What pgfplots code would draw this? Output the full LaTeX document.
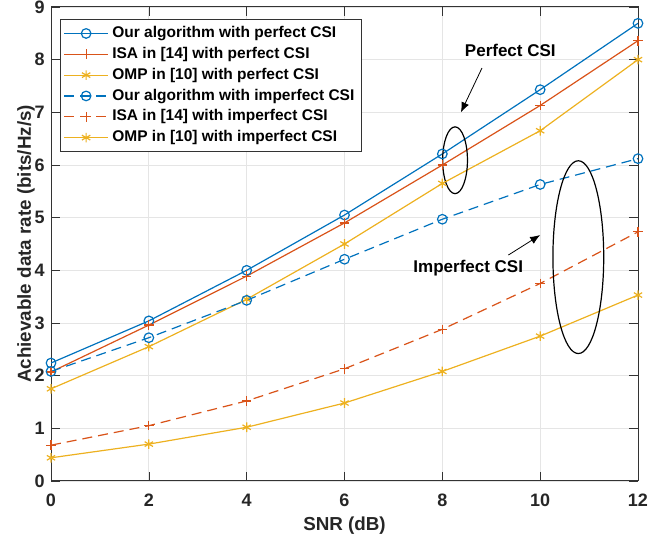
\documentclass[border=0pt]{standalone}
\usepackage{fontspec}
\setmainfont{Liberation Sans}
\usepackage{pgfplots}
\pgfplotsset{compat=1.18}
\usetikzlibrary{arrows.meta}
\definecolor{mb}{rgb}{0,0.447,0.741}
\definecolor{mr}{rgb}{0.85,0.325,0.098}
\definecolor{my}{rgb}{0.929,0.694,0.125}
\begin{document}
\begin{tikzpicture}
\begin{axis}[
  scale only axis, width=293.5pt, height=237pt,
  xmin=0, xmax=12, ymin=0, ymax=9,
  xtick={0,2,...,12}, ytick={0,1,...,9},
  grid=major, major grid style={gray!20, line width=0.4pt},
  tick align=inside, axis line style={black!80, line width=0.5pt},
  tick style={black!80},
  /pgf/number format/assume math mode=true,
  ticklabel style={font=\bfseries\fontsize{9}{10}\selectfont, text=black!85},
  xticklabel style={anchor=base, yshift=-13pt},
  yticklabel style={anchor=east, inner sep=0pt, xshift=-3pt},
  xlabel={SNR (dB)}, ylabel={Achievable data rate (bits/Hz/s)},
  every axis x label/.style={at={(rel axis cs:0.5,0)}, anchor=base, yshift=-25pt,
    font=\bfseries\fontsize{9.4}{11}\selectfont, text=black!85},
  every axis y label/.style={at={(rel axis cs:0,0.5)}, anchor=base, rotate=90, yshift=10pt,
    font=\bfseries\fontsize{9.4}{11}\selectfont, text=black!85},
  legend style={at={(rel axis cs:0.016,0.975)}, anchor=north west, font=\bfseries\fontsize{7.75}{9.4}\selectfont,
    draw=black!80, line width=0.5pt, row sep=-0.7pt, inner sep=1.5pt},
  legend cell align=left,
  legend image code/.code={\draw[mark repeat=2,mark phase=2] plot coordinates {(0cm,0cm)(0.38cm,0cm)(0.76cm,0cm)};},
  every axis plot/.append style={line width=0.6pt, mark size=2.4pt, mark options={solid}},
]
\coordinate (ll) at (rel axis cs:0,0);
\coordinate (ur) at (rel axis cs:1,1);
\addplot[mb, mark=o] coordinates {(0,2.24)(2,3.04)(4,4.00)(6,5.05)(8,6.21)(10,7.43)(12,8.69)};
\addlegendentry{Our algorithm with perfect CSI}
\addplot[mr, mark=+] coordinates {(0,2.07)(2,2.96)(4,3.89)(6,4.90)(8,6.00)(10,7.13)(12,8.36)};
\addlegendentry{ISA in [14] with perfect CSI}
\addplot[my, mark=asterisk] coordinates {(0,1.75)(2,2.55)(4,3.45)(6,4.50)(8,5.65)(10,6.65)(12,8.00)};
\addlegendentry{OMP in [10] with perfect CSI}
\addplot[mb, mark=o, dash pattern=on 5pt off 3pt] coordinates {(0,2.08)(2,2.72)(4,3.43)(6,4.21)(8,4.97)(10,5.63)(12,6.12)};
\addlegendentry{Our algorithm with imperfect CSI}
\addplot[mr, mark=+, dash pattern=on 5pt off 3pt] coordinates {(0,0.68)(2,1.05)(4,1.52)(6,2.13)(8,2.88)(10,3.75)(12,4.73)};
\addlegendentry{ISA in [14] with imperfect CSI}
\addplot[my, mark=asterisk] coordinates {(0,0.44)(2,0.70)(4,1.02)(6,1.48)(8,2.08)(10,2.75)(12,3.53)};
\addlegendentry{OMP in [10] with imperfect CSI}
\draw[black, line width=0.6pt] (axis cs:8.26,6.09) ellipse [x radius=6.2pt, y radius=16.7pt];
\draw[black, line width=0.6pt] (axis cs:10.78,4.25) ellipse [x radius=12.7pt, y radius=48.2pt];
\draw[-{Latex[length=5pt,width=4pt]}, line width=0.4pt] (axis cs:8.81,7.84) -- (axis cs:8.38,7.0);
\draw[-{Latex[length=5pt,width=4pt]}, line width=0.4pt] (axis cs:9.35,4.29) -- (axis cs:10.0,4.67);
\node[font=\bfseries\fontsize{8.5}{10}\selectfont] at (axis cs:9.39,8.18) {Perfect CSI};
\node[font=\bfseries\fontsize{8.5}{10}\selectfont] at (axis cs:8.53,4.04) {Imperfect CSI};
\end{axis}
\pgfresetboundingbox
\path ([shift={(-25.5pt,-29.5pt)}]ll) rectangle ([shift={(5.5pt,3.5pt)}]ur);
\end{tikzpicture}
\end{document}
